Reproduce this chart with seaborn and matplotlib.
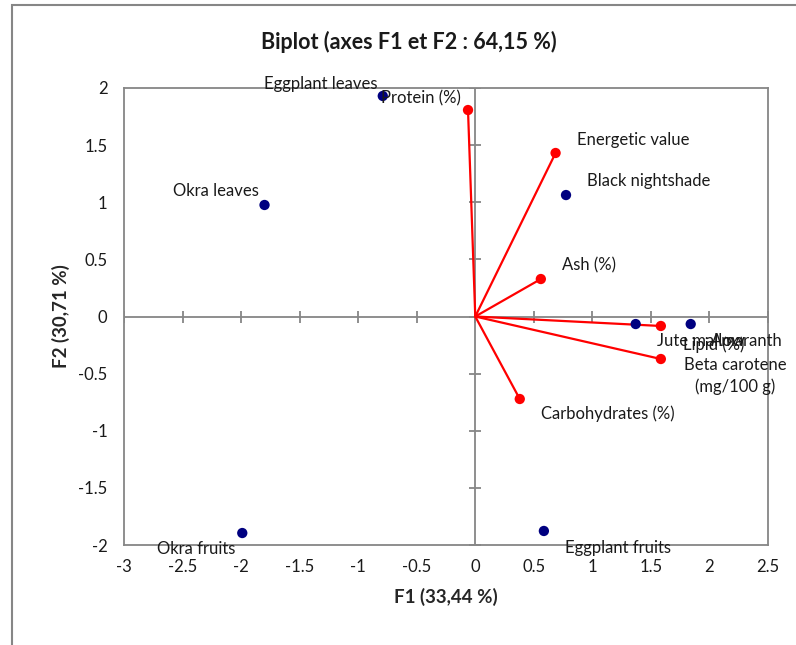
import pandas as pd
import matplotlib.pyplot as plt
import seaborn as sns
from matplotlib.patches import Rectangle

sns.set_style("white")
plt.rcParams["font.family"] = ["Lato", "DejaVu Sans"]

# observations (vegetables)
obs_names = ["Eggplant leaves", "Okra leaves", "Black nightshade", "Jute mallow",
             "Amaranth", "Okra fruits", "Eggplant fruits"]
obs_f1 = [-0.79, -1.80, 0.775, 1.37, 1.84, -1.99, 0.586]
obs_f2 = [1.93, 0.976, 1.063, -0.066, -0.066, -1.895, -1.877]

# variables
var_names = ["Protein (%)", "Energetic value", "Ash (%)", "Lipid (%)",
             "Beta carotene\n(mg/100 g)", "Carbohydrates (%)"]
var_f1 = [-0.062, 0.686, 0.56, 1.585, 1.585, 0.38]
var_f2 = [1.807, 1.431, 0.328, -0.083, -0.372, -0.722]

xticks = [-3, -2.5, -2, -1.5, -1, -0.5, 0, 0.5, 1, 1.5, 2, 2.5]
yticks = [-2, -1.5, -1, -0.5, 0, 0.5, 1, 1.5, 2]

# label placement, offsets in pixels: (dx, dy, ha)
obs_lab = [(-5, 12, "right"), (-6, 14, "right"), (21, 14, "left"), (21, -17, "left"),
           (20, -17, "left"), (-7, -16, "right"), (21, -17, "left")]
var_lab = [(-7, 12, "right"), (21, 13, "left"), (21, 14, "left"), (22, -19, "left"),
           (74, -17, "center"), (21, -15, "left")]

obs = pd.DataFrame({"F1": obs_f1, "F2": obs_f2, "name": obs_names})
var = pd.DataFrame({"F1": var_f1, "F2": var_f2, "name": var_names})

gray = "#868686"
txt = "#1a1a1a"
fig = plt.figure(figsize=(7.96, 6.45), dpi=100)
ax = fig.add_axes([0.1558, 0.155, 0.809, 0.7086])

ax.set_xlim(-3, 2.5)
ax.set_ylim(-2, 2)

# cross at origin with tick marks
ax.axhline(0, color=gray, lw=1.3, zorder=1)
ax.axvline(0, color=gray, lw=1.3, zorder=1)
ax.plot(xticks, [0] * len(xticks), ls="none", marker="|", ms=9, mew=1.3, color=gray, zorder=1)
ax.plot([0] * len(yticks), yticks, ls="none", marker="_", ms=9, mew=1.3, color=gray, zorder=1)

# variable vectors
for x, y in zip(var_f1, var_f2):
    ax.plot([0, x], [0, y], color="red", lw=1.6, zorder=2)
sns.scatterplot(data=var, x="F1", y="F2", ax=ax, color="red", s=55,
                edgecolor="none", zorder=3)
sns.scatterplot(data=obs, x="F1", y="F2", ax=ax, color="#000080", s=55,
                edgecolor="none", zorder=3)

for (x, y, n), (dx, dy, ha) in zip(zip(obs_f1, obs_f2, obs_names), obs_lab):
    ax.annotate(n, (x, y), xytext=(dx, dy), textcoords="offset pixels",
                ha=ha, va="center", fontsize=12, color=txt, zorder=4)
for (x, y, n), (dx, dy, ha) in zip(zip(var_f1, var_f2, var_names), var_lab):
    ax.annotate(n, (x, y), xytext=(dx, dy), textcoords="offset pixels",
                ha=ha, va="center", multialignment="center", linespacing=1.45,
                fontsize=12, color=txt, zorder=4)

ax.set_xticks(xticks)
ax.set_yticks(yticks)
ax.set_xticklabels([f"{t:g}" for t in xticks])
ax.set_yticklabels([f"{t:g}" for t in yticks])
ax.tick_params(length=0, labelsize=12, colors=txt)
ax.tick_params(axis="y", pad=12)
ax.tick_params(axis="x", pad=10)
for s in ax.spines.values():
    s.set_color(gray)
    s.set_linewidth(1.3)

ax.set_xlabel("F1 (33,44 %)", fontsize=13.5, fontweight="bold", labelpad=9)
ax.set_ylabel("F2 (30,71 %)", fontsize=13.5, fontweight="bold", labelpad=6)
fig.text(0.513, 0.935, "Biplot (axes F1 et F2 : 64,15 %)", ha="center", va="center",
         fontsize=15.5, fontweight="bold", color=txt)

# outer chart frame
fig.add_artist(Rectangle((0.0151, -0.05), 1.1, 1.05 - 5 / 645, transform=fig.transFigure,
                         fill=False, edgecolor=gray, lw=1.5, clip_on=False))

fig.savefig("out.png", dpi=100)
